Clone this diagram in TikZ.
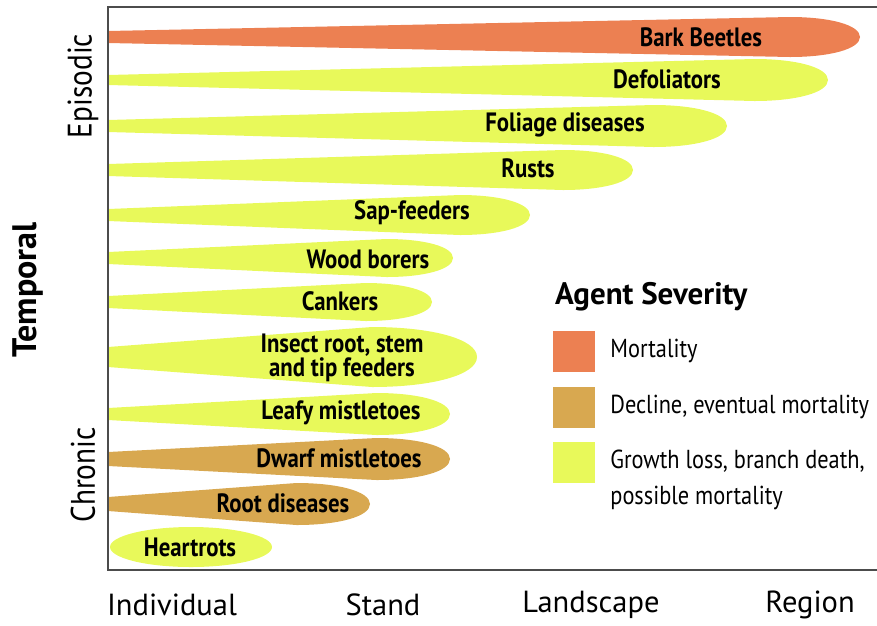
\documentclass[tikz,border=0pt]{standalone}
\usepackage{fontspec}
\setmainfont{PT Sans}[FakeStretch=0.86]
\newfontfamily\widefont{PT Sans}
\usetikzlibrary{positioning}
\definecolor{mortal}{RGB}{236,128,82}
\definecolor{decline}{RGB}{216,168,80}
\definecolor{growth}{RGB}{232,249,90}

\begin{document}
\begin{tikzpicture}[x=1pt,y=-1pt,
    agent/.style={font=\bfseries\fontsize{26.5}{27}\selectfont,align=center},
    scalelab/.style={font=\widefont\fontsize{30.5}{34}\selectfont},
    sidelab/.style={rotate=90,font=\fontsize{34}{34}\selectfont},
    legendtxt/.style={font=\fontsize{26}{36}\selectfont,align=left,anchor=west,inner sep=0pt},
    swatch/.style={minimum width=42pt,minimum height=41pt,inner sep=0pt}]
    \useasboundingbox (0,0) rectangle (877,625);
    \foreach \c/\xr/\h/\t/\col in {37/860/20/6/mortal, 80/828/21/5/growth, 126/727/21/6/growth,
        170/633/20/6/growth, 215/530/20/6/growth, 258/453/19/6/growth, 302/432/19/6/growth,
        357/477/30/10/growth, 414/450/21/6/growth, 459/450/21/7/decline, 504/370/21/7/decline}
      \fill[\col] (108,\c-\t) -- (\xr-3.5*\h,\c-\h) .. controls (\xr-1.5*\h,\c-\h) and (\xr,\c-0.6*\h) .. (\xr,\c)
          .. controls (\xr,\c+0.6*\h) and (\xr-1.5*\h,\c+\h) .. (\xr-3.5*\h,\c+\h) -- (108,\c+\t) -- cycle;
    \fill[growth] (191,547) ellipse [x radius=81, y radius=20];
    \draw[gray!60!black, line width=1.5pt] (877,7) -- (108,7) -- (108,570) -- (877,570);
    \node[agent] (bark) at (701,37) {Bark Beetles};
    \node[agent] (defol) at (667,79) {Defoliators};
    \node[agent] (foliage) at (565,125) {Foliage diseases};
    \node[agent] (rusts) at (528,168) {Rusts};
    \node[agent] (sap) at (412,213) {Sap-feeders};
    \node[agent] (wood) at (368,259) {Wood borers};
    \node[agent] (cankers) at (340,301) {Cankers};
    \node[agent] (insect) at (342,358) {Insect root, stem\\[-3pt]and tip feeders};
    \node[agent] (leafy) at (341,413) {Leafy mistletoes};
    \node[agent] (dwarf) at (339,458) {Dwarf mistletoes};
    \node[agent] (root) at (283,503) {Root diseases};
    \node[agent] (heart) at (190,547) {Heartrots};
    \node[scalelab] (indiv) at (172,605) {Individual};
    \node[scalelab] (stand) at (383,605) {Stand};
    \node[scalelab] (landsc) at (591,605) {Landscape};
    \node[scalelab] (region) at (810,605) {Region};
    \node[sidelab] (episodic) at (83,86) {Episodic};
    \node[sidelab] (chronic) at (83,475) {Chronic};
    \node[sidelab,font=\widefont\bfseries\fontsize{34}{34}\selectfont] (temporal) at (28,290) {Temporal};
    \node[font=\widefont\bfseries\fontsize{31}{32}\selectfont,anchor=west,inner sep=0pt] (sevtitle) at (555,297) {Agent Severity};
    \node[swatch,fill=mortal] (swmort) at (574,351) {};
    \node[swatch,fill=decline] (swdecl) at (574,407) {};
    \node[swatch,fill=growth] (swgrow) at (574,462) {};
    \node[legendtxt,right=15pt of swmort] (txmort) {Mortality};
    \node[legendtxt,right=15pt of swdecl] (txdecl) {Decline, eventual mortality};
    \node[legendtxt,right=15pt of swgrow,yshift=-18pt] (txgrow) {Growth loss, branch death,\\possible mortality};
\end{tikzpicture}
\end{document}
